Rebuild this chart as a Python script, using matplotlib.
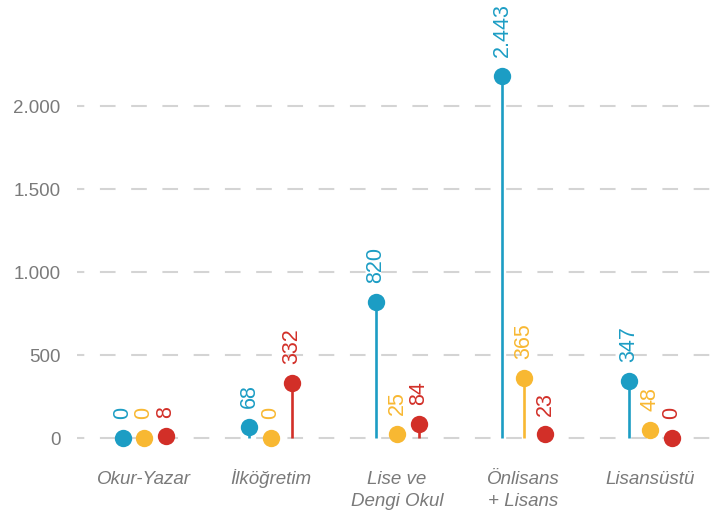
import matplotlib
matplotlib.use("Agg")
import matplotlib.pyplot as plt
import numpy as np

plt.rcParams['font.family'] = ['Liberation Sans', 'DejaVu Sans']

categories = ['Okur-Yazar', 'İlköğretim', 'Lise ve\nDengi Okul', 'Önlisans\n+ Lisans', 'Lisansüstü']

# plotted positions
blue_vals = [0, 68, 820, 2185, 347]
yellow_vals = [0, 0, 25, 365, 48]
red_vals = [10, 332, 84, 23, 0]

# printed labels
blue_labels = ['0', '68', '820', '2.443', '347']
yellow_labels = ['0', '0', '25', '365', '48']
red_labels = ['8', '332', '84', '23', '0']

yticks = [0, 500, 1000, 1500, 2000]
ytick_labels = ['0', '500', '1.000', '1.500', '2.000']

BLUE = '#1c9dc4'
YELLOW = '#f8b832'
RED = '#d22f28'
GREY = '#7a7a7a'

fig = plt.figure(figsize=(7.10, 5.14), dpi=100)
ax = fig.add_axes([77 / 710, 1 - 463 / 514, 633 / 710, 463 / 514])

x = np.arange(len(categories))
offset = 0.17
series = [(blue_vals, blue_labels, BLUE, -offset),
          (yellow_vals, yellow_labels, YELLOW, 0),
          (red_vals, red_labels, RED, offset)]

for vals, labels, color, dx in series:
    xs = x + dx
    ax.vlines(xs, 0, vals, color=color, linewidth=1.9, zorder=3)
    ax.plot(xs, vals, 'o', color=color, markersize=12.5, markeredgewidth=0, zorder=4)
    for xi, v, lab in zip(xs, vals, labels):
        ax.annotate(lab, (xi, v), xytext=(0, 13.5), textcoords='offset points',
                    rotation=90, ha='center', va='bottom', color=color,
                    family=['Liberation Sans Narrow', 'Liberation Sans'],
                    fontsize=15.5, zorder=5)

ax.set_xlim(-0.53, 4.474)
ax.set_ylim(-150, 2640)
ax.set_yticks(yticks)
ax.set_yticklabels(ytick_labels)
ax.set_xticks(x)
ax.set_xticklabels([])
ax.tick_params(axis='y', length=0, pad=12, labelsize=13.5, labelcolor=GREY)
ax.tick_params(axis='x', length=0)

# category names, one line at a time on a common baseline
for xi, cat in zip(x, categories):
    for i, line in enumerate(cat.split('\n')):
        ax.annotate(line, (xi, 0), xycoords=ax.get_xaxis_transform(),
                    xytext=(0, -15 - 16 * i), textcoords='offset points',
                    ha='center', va='baseline', fontsize=13.5, color=GREY,
                    fontstyle='italic')

ax.yaxis.grid(True, color='#d4d4d4', linewidth=1.5, linestyle=(4, (7.5, 7.5)))
ax.set_axisbelow(True)
for s in ax.spines.values():
    s.set_visible(False)

fig.savefig('out.png', dpi=100)
